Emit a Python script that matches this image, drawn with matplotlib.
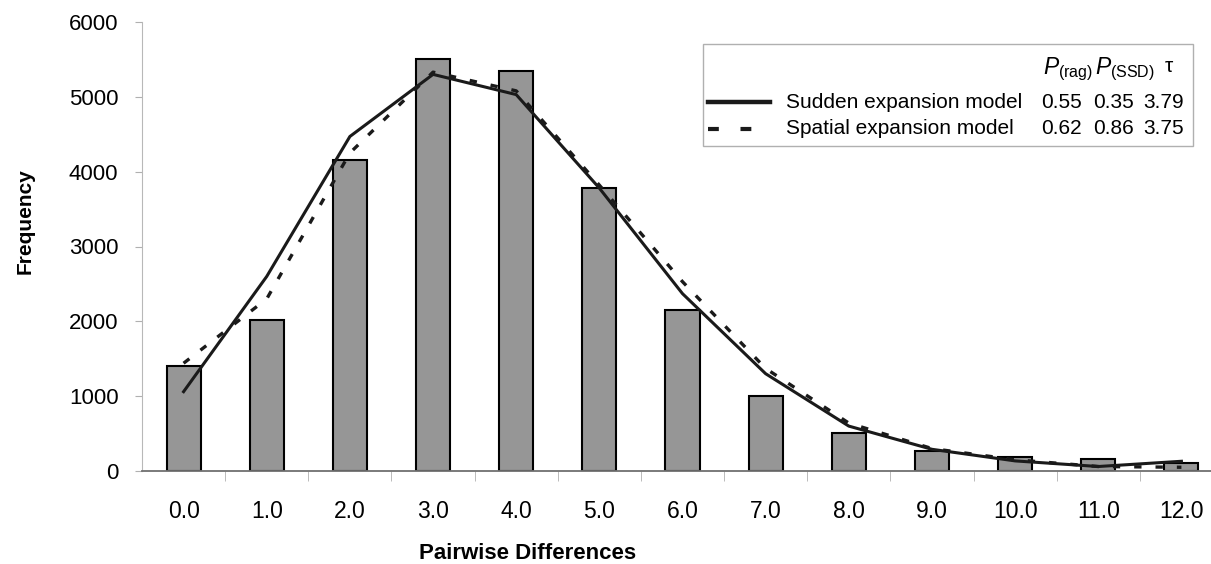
import numpy as np
import matplotlib.pyplot as plt
from matplotlib.patches import Rectangle
from matplotlib.lines import Line2D

plt.rcParams['font.family'] = ['Liberation Sans', 'DejaVu Sans']
plt.rcParams['mathtext.fontset'] = 'custom'
plt.rcParams['mathtext.rm'] = 'Liberation Sans'
plt.rcParams['mathtext.it'] = 'Liberation Sans:italic'

# observed mismatch distribution and the two model fits
categories = ['0.0', '1.0', '2.0', '3.0', '4.0', '5.0', '6.0',
              '7.0', '8.0', '9.0', '10.0', '11.0', '12.0']
observed = [1400, 2020, 4150, 5510, 5350, 3780, 2150, 1005, 505, 270, 190, 160, 110]
sudden = [1060, 2600, 4470, 5300, 5030, 3780, 2370, 1300, 600, 290, 135, 60, 130]
spatial = [1440, 2300, 4250, 5330, 5080, 3820, 2530, 1370, 640, 300, 150, 60, 50]

# legend table
model_names = ['Sudden expansion model', 'Spatial expansion model']
p_rag = ['0.55', '0.62']
p_ssd = ['0.35', '0.86']
tau = ['3.79', '3.75']

W, H = 1211, 564
fig = plt.figure(figsize=(W / 100, H / 100), dpi=100)
ax = fig.add_axes([142 / W, 93 / H, (1223 - 142) / W, 449 / H])

x = np.arange(len(categories))
ax.bar(x, observed, width=0.41, color='#969696', edgecolor='black', linewidth=1.5, zorder=2)
ax.plot(x, sudden, color='#1a1a1a', linewidth=2.2, zorder=3)
ax.plot(x, spatial, color='#1a1a1a', linewidth=2.4, linestyle=(0, (2.2, 4.2)), zorder=3)

ax.set_xlim(-0.5, len(categories) - 0.5)
ax.set_ylim(0, 6000)
ax.set_yticks(np.arange(0, 6001, 1000))
ax.set_xticks(x)
ax.set_xticklabels(categories)
ax.set_xticks(np.arange(0.5, len(categories) - 1, 1), minor=True)

ax.tick_params(axis='x', which='major', length=0, pad=21, labelsize=16.5)
ax.tick_params(axis='x', which='minor', length=7, color='#b0b0b0', direction='out')
ax.tick_params(axis='y', length=5, color='#b0b0b0', pad=12, labelsize=16)

for s in ['top', 'right']:
    ax.spines[s].set_visible(False)
ax.spines['left'].set_color('#b8b8b8')
ax.spines['bottom'].set_color('#707070')
ax.spines['bottom'].set_linewidth(1.3)

ax.set_xlabel('Pairwise Differences', fontsize=16, fontweight='bold')
ax.xaxis.set_label_coords((528 - 142) / 1081, (471 - 543) / 449)
ax.set_ylabel('Frequency', fontsize=15, fontweight='bold', va='center')
ax.yaxis.set_label_coords((25 - 142) / 1081, (471 - 221) / 449)

# legend box drawn in figure pixels
def fx(px):
    return px / W

def fy(py):
    return 1 - py / H

fig.patches.append(Rectangle((fx(703), fy(146)), fx(1193) - fx(703), fy(44) - fy(146),
                             transform=fig.transFigure, facecolor='white',
                             edgecolor='#b0b0b0', linewidth=1.0, zorder=5))

hdr_y = fy(69)
fig.text(fx(1043), hdr_y, r'$\mathit{P}_{\mathrm{(rag)}}$', fontsize=16.5, va='center', zorder=6)
fig.text(fx(1095), hdr_y, r'$\mathit{P}_{\mathrm{(SSD)}}$', fontsize=16.5, va='center', zorder=6)
fig.text(fx(1165), fy(66), 'τ', fontsize=15, va='center', zorder=6)

row_y = [102, 129]
styles = [dict(linestyle='-', linewidth=3.2),
          dict(linestyle=(0, (2.6, 5.2)), linewidth=3.0)]
for i in range(2):
    y = fy(row_y[i])
    fig.lines.append(Line2D([fx(708), fx(770)], [y, y], transform=fig.transFigure,
                            color='#1a1a1a', zorder=6, **styles[i]))
    fig.text(fx(786), y, model_names[i], fontsize=15, va='center', zorder=6)
    fig.text(fx(1041), y, p_rag[i], fontsize=15, va='center', zorder=6)
    fig.text(fx(1093), y, p_ssd[i], fontsize=15, va='center', zorder=6)
    fig.text(fx(1143), y, tau[i], fontsize=15, va='center', zorder=6)

fig.savefig('out.png', dpi=100)
